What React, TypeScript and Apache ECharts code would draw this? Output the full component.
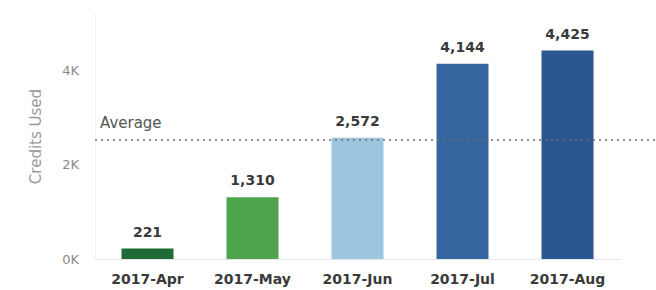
import React, { useEffect, useRef } from "react";
import * as echarts from "echarts";

const categories = ["2017-Apr", "2017-May", "2017-Jun", "2017-Jul", "2017-Aug"];
const creditsUsed = [221, 1310, 2572, 4144, 4425];
const barColors = ["#1f6b35", "#4fa54d", "#9cc6e0", "#3566a0", "#2b5690"];
const average = creditsUsed.reduce((a, b) => a + b, 0) / creditsUsed.length;

const FONT = "DejaVu Sans, Verdana, sans-serif";

export default function App() {
  const ref = useRef<HTMLDivElement>(null);
  useEffect(() => {
    document.body.style.margin = "0";
    const chart = echarts.init(ref.current!, null, { renderer: "svg" });
    chart.setOption({
      animation: false,
      grid: [
        { left: 95, top: 14, width: 525, height: 245, containLabel: false },
        { left: 95, top: 14, right: 0, height: 245, containLabel: false },
      ],
      xAxis: [
        {
          type: "category",
          data: categories,
          gridIndex: 0,
          axisLine: { show: true, lineStyle: { color: "#e0e0e0", type: "dotted" } },
          axisTick: { show: false },
          axisLabel: {
            interval: 0,
            hideOverlap: false,
            color: "#3a3a3a",
            fontWeight: "bold",
            fontSize: 14,
            fontFamily: FONT,
            margin: 13,
          },
        },
        {
          type: "category",
          data: ["a"],
          gridIndex: 1,
          show: false,
          boundaryGap: false,
        },
      ],
      yAxis: [
        {
          type: "value",
          gridIndex: 0,
          min: 0,
          max: 5200,
          interval: 2000,
          name: "Credits Used",
          nameLocation: "middle",
          nameGap: 52,
          nameTextStyle: { color: "#9a9a9a", fontSize: 15, fontFamily: FONT },
          axisLine: { show: true, lineStyle: { color: "#f2f2f2" } },
          axisTick: { show: false },
          splitLine: { show: false },
          axisLabel: {
            showMaxLabel: false,
            color: "#8a8a8a",
            fontSize: 13,
            margin: 16,
            fontFamily: FONT,
            formatter: (v: number) => (v % 2000 === 0 ? v / 1000 + "K" : ""),
          },
        },
        {
          type: "value",
          gridIndex: 1,
          min: 0,
          max: 5200,
          show: false,
        },
      ],
      series: [
        {
          type: "bar",
          xAxisIndex: 0,
          yAxisIndex: 0,
          barWidth: 52,
          data: creditsUsed.map((v, i) => ({ value: v, itemStyle: { color: barColors[i] } })),
          label: {
            show: true,
            position: "top",
            distance: 10,
            color: "#3a3a3a",
            fontSize: 14,
            fontWeight: "bold",
            fontFamily: FONT,
            formatter: (p: any) => p.value.toLocaleString("en-US"),
          },
        },
        {
          type: "line",
          xAxisIndex: 1,
          yAxisIndex: 1,
          data: [],
          z: 10,
          markLine: {
            silent: true,
            symbol: "none",
            lineStyle: { color: "#6f6f6f", type: [2, 4], width: 1.5 },
            label: {
              show: true,
              position: "insideStartTop",
              formatter: "Average",
              color: "#555",
              fontSize: 15,
              distance: [5, 9],
              fontFamily: FONT,
            },
            data: [{ yAxis: average }],
          },
        },
      ],
    });
    return () => chart.dispose();
  }, []);
  return <div ref={ref} style={{ width: 656, height: 290 }} />;
}
